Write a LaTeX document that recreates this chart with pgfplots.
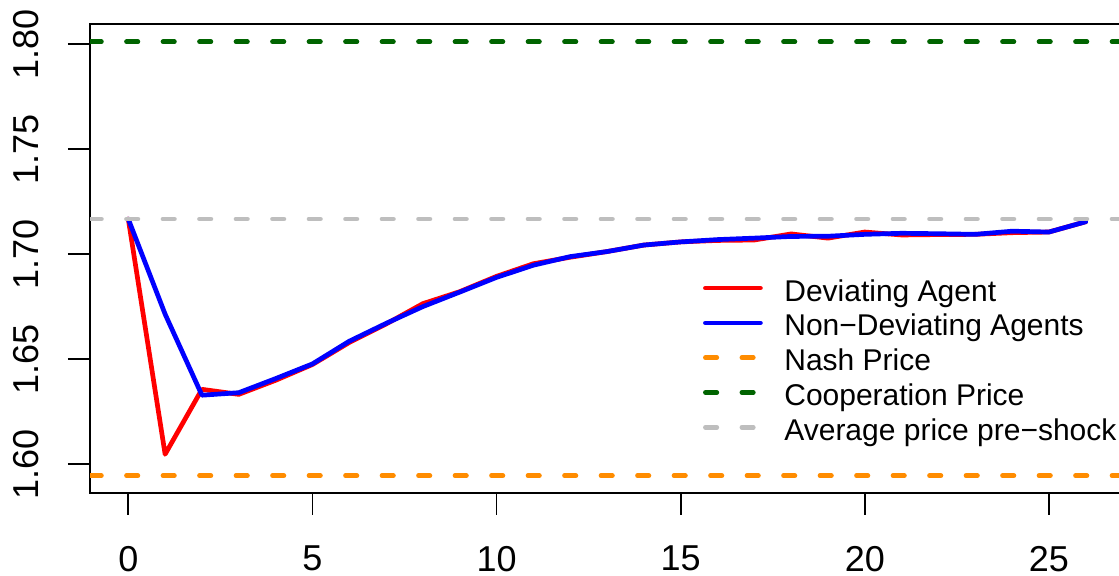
\documentclass[border=0pt]{standalone}
\usepackage{pgfplots}
\pgfplotsset{compat=1.18}
\usepackage{fontspec}
\setmainfont{Liberation Sans}
\definecolor{rred}{RGB}{255,0,0}
\definecolor{rblue}{RGB}{0,0,255}
\definecolor{rorange}{RGB}{255,140,0}
\definecolor{rgreen}{RGB}{0,100,0}
\definecolor{rgrey}{RGB}{190,190,190}
\begin{document}
\begin{tikzpicture}
\useasboundingbox (0,0) rectangle (559.5pt,288pt);
\begin{axis}[
  at={(45pt,41.65pt)}, anchor=south west,
  scale only axis, width=517pt, height=234.35pt,
  xmin=-1.04, xmax=27.04, ymin=1.58648, ymax=1.80967,
  axis line style={line width=1pt},
  tick align=outside, xtick pos=bottom, ytick pos=left,
  major tick length=11pt,
  tick style={line width=0.9pt, black},
  xtick={0,5,10,15,20,25},
  ytick={1.60,1.65,1.70,1.75,1.80},
  yticklabels={1.60,1.65,1.70,1.75,1.80},
  /pgf/number format/assume math mode=true,
  tick label style={font=\fontsize{18}{18}\selectfont},
  xticklabel style={anchor=north, inner sep=0pt, yshift=-15.5pt},
  yticklabel style={xshift=-14.5pt, rotate=90, anchor=south, inner sep=0pt},
  legend style={draw=none, fill=none, at={(0.5925,0.4545)}, anchor=north west,
    font=\fontsize{15}{17.4}\selectfont, inner sep=0pt,
    nodes={inner sep=0pt, text height=10.5pt, text depth=3pt},
    row sep=3.9pt},
  legend cell align=left,
  legend image code/.code={\draw[#1] (0pt,2.75pt) -- (27.5pt,2.75pt); \path (38.3pt,0pt);},
  every axis plot/.append style={line width=2.35pt, line cap=round, line join=round},
]
\addplot[rred] coordinates {
(0,1.7168) (1,1.6048) (2,1.6357) (3,1.6333) (4,1.6400) (5,1.6475) (6,1.6580)
(7,1.6668) (8,1.6765) (9,1.6822) (10,1.6895) (11,1.6955) (12,1.6986) (13,1.7013)
(14,1.7044) (15,1.7059) (16,1.7066) (17,1.7068) (18,1.7097) (19,1.7077) (20,1.7106)
(21,1.7092) (22,1.7094) (23,1.7095) (24,1.7103) (25,1.7106) (26,1.7155)};
\addlegendentry{Deviating Agent}
\addplot[rblue] coordinates {
(0,1.7168) (1,1.6715) (2,1.6329) (3,1.6341) (4,1.6408) (5,1.6478) (6,1.6586)
(7,1.6671) (8,1.6751) (9,1.6820) (10,1.6890) (11,1.6948) (12,1.6989) (13,1.7013)
(14,1.7044) (15,1.7059) (16,1.7070) (17,1.7077) (18,1.7085) (19,1.7086) (20,1.7095)
(21,1.7100) (22,1.7098) (23,1.7095) (24,1.7110) (25,1.7106) (26,1.7155)};
\addlegendentry{Non\textminus Deviating Agents}
\addplot[rorange, dash pattern=on 5.7pt off 12.55pt] coordinates {(-1.04,1.5946) (27.04,1.5946)};
\addlegendentry{Nash Price}
\addplot[rgreen, dash pattern=on 5.7pt off 12.55pt] coordinates {(-1.04,1.8012) (27.04,1.8012)};
\addlegendentry{Cooperation Price}
\addplot[rgrey, dash pattern=on 5.7pt off 12.55pt] coordinates {(-1.04,1.7168) (27.04,1.7168)};
\addlegendentry{Average price pre\textminus shock}
\end{axis}
\end{tikzpicture}
\end{document}
